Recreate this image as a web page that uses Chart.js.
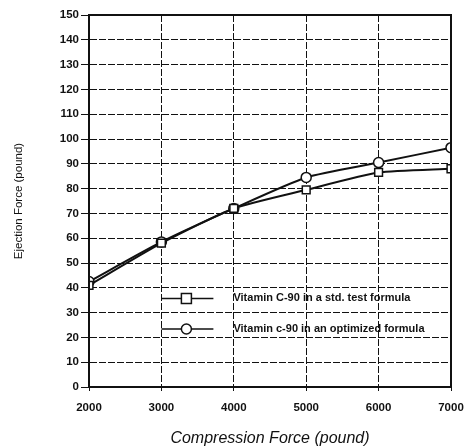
<!DOCTYPE html>
<html>
<head>
  <title>Ejection vs Compression Force</title>
  <script src="https://cdn.jsdelivr.net/npm/chart.js"></script>
  <style>
    body { margin: 0; background: #fff; }
    #wrap { width: 465px; height: 448px; }
  </style>
</head>
<body>
  <div id="wrap"><canvas id="forceChart" width="465" height="448"></canvas></div>

  <script>
    // values
    const compression = [2000, 3000, 4000, 5000, 6000, 7000];
    const stdFormula = [41, 58, 72, 79.5, 86.5, 88];
    const optimized = [42.5, 58.5, 72, 84.5, 90.5, 96.5];
    const stdLabel = 'Vitamin C-90 in a std. test formula';
    const optLabel = 'Vitamin c-90 in an optimized formula';

    const ink = '#111';
    const face = '"Liberation Sans", Arial';

    // legend sits inside the plot, drawn by hand
    const boxLegend = {
      id: 'boxLegend',
      afterDraw(chart) {
        const c = chart.ctx, x = chart.scales.x, y = chart.scales.y;
        const x0 = x.getPixelForValue(3000), x1 = x0 + 52, xm = x0 + 25;
        const rows = [[y.getPixelForValue(35.7), 'rect', stdLabel],
                      [y.getPixelForValue(23.4), 'circle', optLabel]];
        c.save();
        rows.forEach(([py, shape, text]) => {
          c.strokeStyle = ink;
          c.lineWidth = 1.5;
          c.beginPath(); c.moveTo(x0, py); c.lineTo(x1, py); c.stroke();
          c.fillStyle = '#fff';
          c.beginPath();
          if (shape === 'rect') c.rect(xm - 5, py - 5, 10, 10);
          else c.arc(xm, py, 5, 0, Math.PI * 2);
          c.fill(); c.stroke();
          c.fillStyle = ink;
          c.font = 'bold 11px ' + face;
          c.textBaseline = 'middle';
          c.fillText(text, x0 + 72, py);
        });
        // frame round the plot
        const a = chart.chartArea;
        c.strokeStyle = ink; c.lineWidth = 2;
        c.strokeRect(a.left, a.top, a.right - a.left, a.bottom - a.top);
        c.restore();
      }
    };

    const ctx = document.getElementById('forceChart').getContext('2d');
    new Chart(ctx, {
      type: 'line',
      data: {
        datasets: [{
          label: stdLabel,
          data: compression.map((v, i) => ({ x: v, y: stdFormula[i] })),
          borderColor: ink, borderWidth: 2,
          pointStyle: 'rect', pointRadius: 5.5,
          pointBackgroundColor: '#fff', pointBorderColor: ink, pointBorderWidth: 1.5,
          tension: 0.2
        }, {
          label: optLabel,
          data: compression.map((v, i) => ({ x: v, y: optimized[i] })),
          borderColor: ink, borderWidth: 2,
          pointStyle: 'circle', pointRadius: 5,
          pointBackgroundColor: '#fff', pointBorderColor: ink, pointBorderWidth: 1.5,
          tension: 0.2
        }]
      },
      options: {
        responsive: false,
        animation: false,
        layout: { padding: { top: 15, right: 14, left: 0, bottom: 0 } },
        plugins: { legend: { display: false }, tooltip: { enabled: false } },
        scales: {
          x: {
            type: 'linear', min: 2000, max: 7000,
            ticks: { stepSize: 1000, color: ink, font: { family: face, weight: 'bold', size: 11.5 }, padding: 10,
                     callback: v => String(v) },
            grid: { color: ink, tickLength: 4, tickBorderDash: [], lineWidth: 1 },
            border: { color: ink, width: 2, dash: [7, 2] },
            title: { display: true, text: 'Compression Force (pound)', color: ink,
                     font: { family: face, style: 'italic', size: 16 }, padding: { top: 10, bottom: 0 } },
            afterFit(s) { s.height = 61; s.paddingLeft = 0; s.paddingRight = 0; }
          },
          y: {
            min: 0, max: 150,
            ticks: { stepSize: 10, color: ink, font: { family: face, weight: 'bold', size: 11.5 }, padding: 2 },
            grid: { color: ink, tickLength: 8, tickBorderDash: [], lineWidth: 1 },
            border: { color: ink, width: 2, dash: [7, 2] },
            title: { display: true, text: 'Ejection Force (pound)', color: ink,
                     font: { family: face, size: 11.5 }, padding: { top: 12, bottom: 30 } },
            afterFit(s) { s.width = 89; s.paddingTop = 0; s.paddingBottom = 0; }
          }
        }
      },
      plugins: [boxLegend]
    });
  </script>
</body>
</html>
